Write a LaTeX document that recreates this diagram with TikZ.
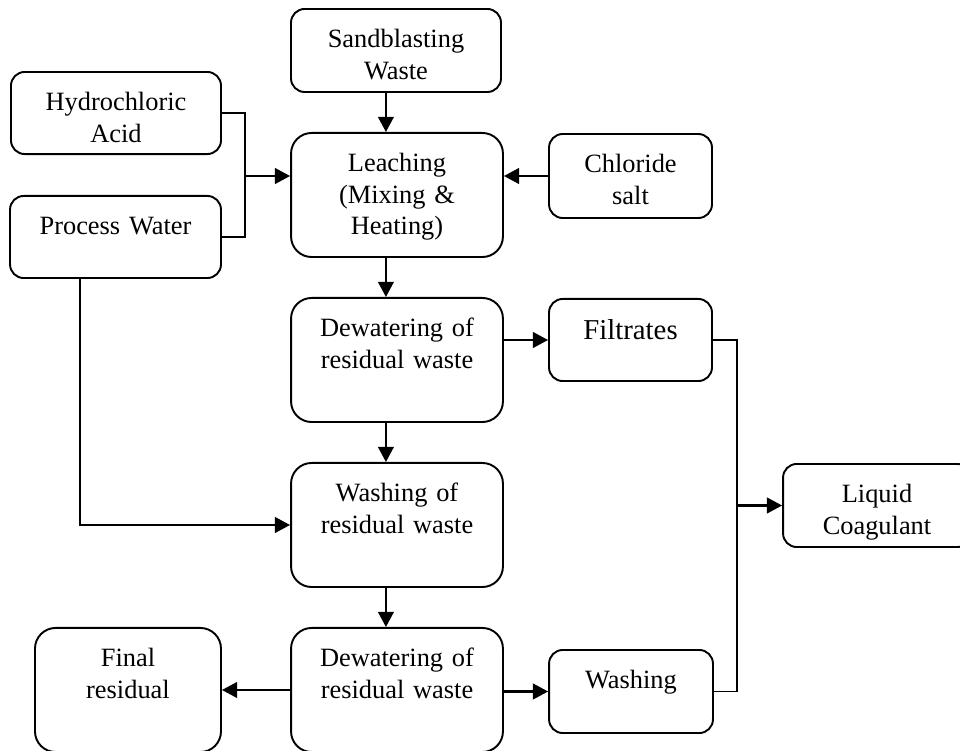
\documentclass[tikz,border=0pt]{standalone}
\usepackage{fontspec}
\setmainfont{Liberation Serif}
\usetikzlibrary{arrows.meta}

\begin{document}
\begin{tikzpicture}[>={Triangle[length=6.3pt,width=6.5pt]}, line width=.8pt]
      \tikzstyle{every node}=[font=\fontsize{11}{13.1}\selectfont]
      \tikzstyle{box}=[draw, rounded corners=5.7pt, inner sep=0pt, align=center, text height=16.2pt, text depth=18pt]
      \tikzstyle{tallbox}=[box, rounded corners=8.6pt, text depth=35.5pt]
      \tikzstyle{flow}=[->, line width=.9pt]
      \tikzstyle{bus}=[line width=.75pt]
      \useasboundingbox (0pt,0pt) rectangle (400pt,312.92pt);
      %%
  \node (sand) at (165pt,291.88pt) [box, text width=87.5pt, text depth=18.4pt] {Sandblasting\\Waste};
  \node (hcl) at (48.33pt,265.83pt) [box, text width=87.5pt] {Hydrochloric\\Acid};
  \node (pw) at (48.13pt,214.17pt) [box, text width=87.9pt] {Process Water};
  \node (leach) at (165.42pt,231.67pt) [tallbox, text width=88.3pt] {Leaching\\(Mixing \&\\Heating)};
  \node (chlor) at (262.71pt,239.58pt) [box, text width=67.9pt, text depth=18.8pt] {Chloride\\salt};
  \node (dew1) at (165.42pt,162.92pt) [tallbox, text width=88.3pt] {Dewatering of\\residual waste};
  \node (filt) at (262.71pt,171.25pt) [box, text width=67.9pt, text height=17pt, text depth=17.2pt, font=\fontsize{12}{14.3}\selectfont] {Filtrates};
  \node (wash1) at (165.42pt,94.17pt) [tallbox, text width=88.3pt] {Washing of\\residual waste};
  \node (liq) at (365.42pt,102.29pt) [box, text width=78.3pt, text depth=18.4pt] {Liquid\\Coagulant};
  \node (dew2) at (165.42pt,25.42pt) [tallbox, text width=88.3pt] {Dewatering of\\residual waste};
  \node (fin) at (53.33pt,25.42pt) [tallbox, text width=77.5pt] {Final\\residual};
  \node (wash2) at (262.92pt,24.79pt) [box, text width=68.3pt, text depth=18.4pt] {Washing};
  \coordinate (spine) at (160.8pt,0pt);
  \coordinate (drop) at (33.33pt,0pt);
  \coordinate (lbus) at (102.08pt,239.58pt);
  \coordinate (rbus) at (307.08pt,102.29pt);
  \draw [flow] (sand.south -| spine) -- (leach.north -| spine);
  \draw [flow] (leach.south -| spine) -- (dew1.north -| spine);
  \draw [flow] (dew1.south -| spine) -- (wash1.north -| spine);
  \draw [flow] (wash1.south -| spine) -- (dew2.north -| spine);
  \draw [bus] (hcl.east) -| (lbus) |- (pw.east);
  \draw [flow] (lbus) -- (lbus -| leach.west);
  \draw [flow] (chlor.west) -- (chlor.west -| leach.east);
  \draw [flow] (pw.south -| drop) |- (wash1.west);
  \draw [flow] (dew1.east |- filt.west) -- (filt.west);
  \draw [bus] (filt.east) -| (rbus) |- (wash2.east);
  \draw [flow] (rbus) -- (liq.west);
  \draw [flow] (dew2.east |- wash2.west) -- (wash2.west);
  \draw [flow] (dew2.west) -- (fin.east);
%

    \end{tikzpicture}
\end{document}
